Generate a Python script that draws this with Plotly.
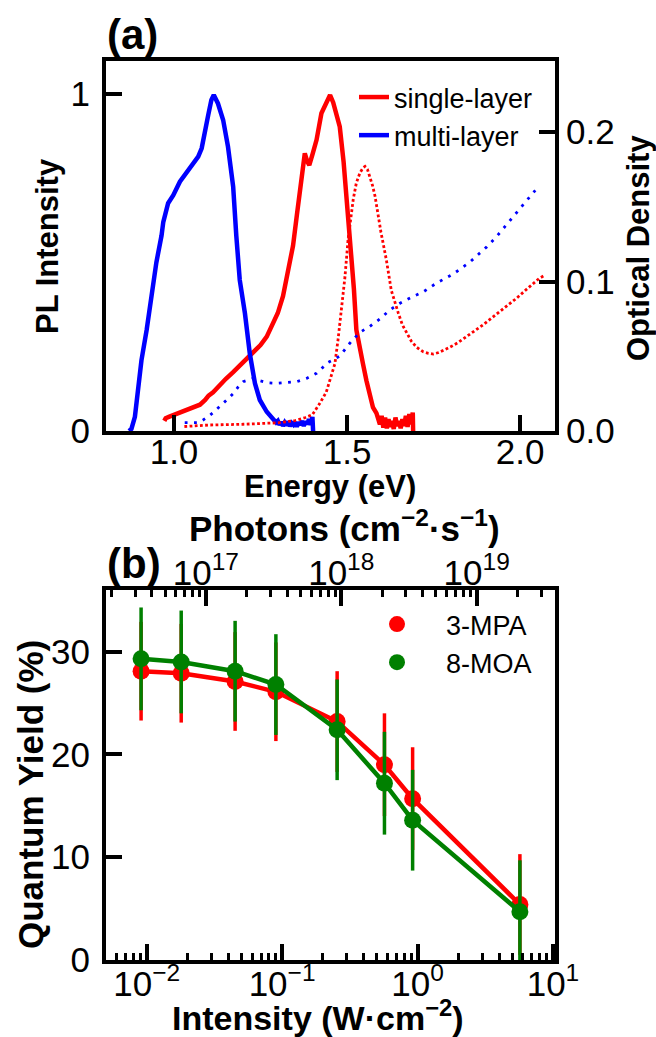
import plotly.graph_objects as go

# ---------------- Panel (a) data ----------------
# PL, single-layer (red solid)
pl_single_E = [0.972, 0.976, 0.985, 1.000, 1.020, 1.040, 1.060, 1.075, 1.090, 1.100, 1.113, 1.130,
               1.150, 1.171, 1.190, 1.210, 1.229, 1.250, 1.268, 1.280, 1.300, 1.315, 1.330, 1.344,
               1.355, 1.364, 1.372, 1.378, 1.385, 1.391, 1.400, 1.412, 1.426, 1.440, 1.451, 1.460,
               1.470, 1.479, 1.490, 1.499, 1.508, 1.513, 1.520, 1.527, 1.537, 1.546, 1.556, 1.566,
               1.575, 1.585, 1.590, 1.595, 1.600, 1.605, 1.610, 1.615, 1.620, 1.625, 1.630, 1.635,
               1.640, 1.645, 1.650, 1.655, 1.660, 1.665, 1.670, 1.675, 1.680, 1.685, 1.690, 1.691]
pl_single_I = [0.030, 0.038, 0.042, 0.048, 0.055, 0.062, 0.070, 0.078, 0.092, 0.105, 0.115, 0.135,
               0.155, 0.175, 0.195, 0.215, 0.232, 0.255, 0.280, 0.305, 0.350, 0.400, 0.480, 0.550,
               0.640, 0.706, 0.780, 0.824, 0.800, 0.789, 0.820, 0.864, 0.943, 0.975, 0.997, 0.975,
               0.940, 0.903, 0.800, 0.685, 0.596, 0.537, 0.420, 0.300, 0.240, 0.200, 0.150, 0.100,
               0.070, 0.053, 0.035, 0.020, 0.045, 0.010, 0.040, 0.008, 0.035, 0.012, 0.030, 0.006,
               0.040, 0.015, 0.030, 0.008, 0.035, 0.015, 0.045, 0.012, 0.050, 0.020, 0.055, 0.0]

# PL, multi-layer (blue solid)
pl_multi_E = [0.870, 0.877, 0.887, 0.896, 0.906, 0.921, 0.935, 0.949, 0.964, 0.969, 0.983, 0.998,
              1.017, 1.036, 1.055, 1.070, 1.080, 1.089, 1.099, 1.108, 1.115, 1.127, 1.142, 1.156,
              1.171, 1.180, 1.190, 1.205, 1.219, 1.234, 1.248, 1.268, 1.287, 1.295, 1.300, 1.305,
              1.310, 1.315, 1.320, 1.325, 1.330, 1.335, 1.340, 1.345, 1.350, 1.355, 1.360, 1.365,
              1.370, 1.375, 1.380, 1.385, 1.390, 1.395, 1.400, 1.402]
pl_multi_I = [0.000, 0.006, 0.042, 0.120, 0.210, 0.300, 0.400, 0.500, 0.580, 0.620, 0.676, 0.700,
              0.740, 0.765, 0.790, 0.814, 0.839, 0.893, 0.938, 0.982, 0.997, 0.972, 0.923, 0.844,
              0.725, 0.580, 0.448, 0.349, 0.230, 0.141, 0.092, 0.057, 0.033, 0.025, 0.030, 0.018,
              0.027, 0.015, 0.025, 0.017, 0.028, 0.014, 0.024, 0.019, 0.027, 0.013, 0.026, 0.018,
              0.030, 0.015, 0.028, 0.020, 0.035, 0.018, 0.042, 0.000]

# Optical density, single-layer (red dotted)
od_single_E = [1.030, 1.100, 1.200, 1.300, 1.350, 1.380, 1.400, 1.420, 1.440, 1.451, 1.465, 1.474,
               1.484, 1.494, 1.503, 1.510, 1.518, 1.527, 1.537, 1.546, 1.552, 1.559, 1.566, 1.574,
               1.581, 1.590, 1.598, 1.604, 1.614, 1.628, 1.638, 1.648, 1.660, 1.672, 1.686, 1.701,
               1.720, 1.735, 1.749, 1.765, 1.780, 1.797, 1.820, 1.845, 1.870, 1.893, 1.920, 1.942,
               1.965, 1.990, 2.015, 2.038, 2.055, 2.070]
od_single_OD = [0.0030, 0.0040, 0.0045, 0.0055, 0.0070, 0.0090, 0.0110, 0.0180, 0.0260, 0.0340,
                0.0450, 0.0610, 0.0810, 0.1030, 0.1280, 0.1420, 0.1550, 0.1660, 0.1725, 0.1760,
                0.1770, 0.1750, 0.1700, 0.1640, 0.1570, 0.1430, 0.1330, 0.1260, 0.1140, 0.0940,
                0.0860, 0.0790, 0.0710, 0.0655, 0.0600, 0.0560, 0.0530, 0.0520, 0.0515, 0.0525,
                0.0540, 0.0560, 0.0590, 0.0630, 0.0670, 0.0710, 0.0760, 0.0800, 0.0840, 0.0888,
                0.0940, 0.0988, 0.1020, 0.1040]

# Optical density, multi-layer (blue dotted)
od_multi_E = [1.031, 1.051, 1.070, 1.084, 1.099, 1.113, 1.133, 1.152, 1.171, 1.186, 1.200, 1.214,
              1.229, 1.248, 1.268, 1.297, 1.326, 1.355, 1.383, 1.412, 1.446, 1.479, 1.508, 1.537,
              1.566, 1.595, 1.624, 1.653, 1.691, 1.720, 1.759, 1.807, 1.855, 1.903, 1.932, 1.958,
              1.985, 2.015, 2.044]
od_multi_OD = [0.0056, 0.0058, 0.0056, 0.0074, 0.0096, 0.0123, 0.0163, 0.0207, 0.0250, 0.0296,
               0.0330, 0.0340, 0.0352, 0.0336, 0.0323, 0.0319, 0.0323, 0.0330, 0.0352, 0.0386,
               0.0460, 0.0500, 0.0587, 0.0660, 0.0700, 0.0750, 0.0810, 0.0854, 0.0900, 0.0930,
               0.0990, 0.1050, 0.1130, 0.1230, 0.1300, 0.1370, 0.1445, 0.1530, 0.1610]

# ---------------- Panel (b) data ----------------
intensity = [0.0091, 0.018, 0.045, 0.090, 0.255, 0.57, 0.92, 5.7]       # W cm^-2
qy_mpa = [28.1, 27.9, 27.1, 26.1, 23.2, 19.0, 15.7, 5.4]
qy_mpa_err = [4.8, 4.8, 4.8, 4.8, 4.9, 5.0, 5.0, 4.9]
qy_moa = [29.3, 29.0, 28.1, 26.8, 22.4, 17.2, 13.6, 4.7]
qy_moa_err = [5.0, 5.0, 4.9, 4.9, 4.9, 5.0, 4.9, 5.0]
photon_log_offset = 18.563   # log10(photons cm^-2 s^-1 per W cm^-2)

energy_ticks = [1.0, 1.5, 2.0]
pl_ticks = [0, 1]
od_ticks = [0.0, 0.1, 0.2]
qy_ticks = [0, 10, 20, 30]
int_ticks = [0.01, 0.1, 1, 10]
int_ticktext = ["10<sup>−2</sup>", "10<sup>−1</sup>", "10<sup>0</sup>", "10<sup>1</sup>"]
ph_ticks = [1e17, 1e18, 1e19]
ph_ticktext = ["10<sup>17</sup>", "10<sup>18</sup>", "10<sup>19</sup>"]

RED, BLUE, GREEN = "#ff0000", "#0000ff", "#008000"
FONT = "Liberation Sans, Arial, sans-serif"
W, H = 656, 1037

def fx(p):
    return p / W

def fy(p):
    return 1 - p / H

fig = go.Figure()

# panel (a)
fig.add_trace(go.Scatter(x=pl_single_E, y=pl_single_I, mode="lines", name="single-layer",
                         line=dict(color=RED, width=4.5), xaxis="x", yaxis="y", legend="legend"))
fig.add_trace(go.Scatter(x=pl_multi_E, y=pl_multi_I, mode="lines", name="multi-layer",
                         line=dict(color=BLUE, width=4.5), xaxis="x", yaxis="y", legend="legend"))
fig.add_trace(go.Scatter(x=od_single_E, y=od_single_OD, mode="lines", showlegend=False,
                         line=dict(color=RED, width=2.8, dash="2.8px,2.4px"), xaxis="x", yaxis="y2"))
fig.add_trace(go.Scatter(x=od_multi_E, y=od_multi_OD, mode="lines", showlegend=False,
                         line=dict(color=BLUE, width=2.8, dash="2.8px,6.5px"), xaxis="x", yaxis="y2"))

# panel (b)
for name, vals, errs, col in [("3-MPA", qy_mpa, qy_mpa_err, RED), ("8-MOA", qy_moa, qy_moa_err, GREEN)]:
    fig.add_trace(go.Scatter(x=intensity, y=vals, mode="lines", showlegend=False,
                             line=dict(color=col, width=4.5), xaxis="x3", yaxis="y3"))
    fig.add_trace(go.Scatter(x=intensity, y=vals, mode="markers", name=name,
                             marker=dict(color=col, size=17, line=dict(width=0)),
                             error_y=dict(type="data", array=errs, color=col, thickness=3.5, width=0),
                             xaxis="x3", yaxis="y3", legend="legend2"))

# a hidden trace on the top (photon flux) axis so it is drawn
fig.add_trace(go.Scatter(x=[10 ** (photon_log_offset - 2.0)], y=[None], mode="markers",
                         showlegend=False, xaxis="x4", yaxis="y3", hoverinfo="skip"))

axis_common = dict(showgrid=False, zeroline=False, showline=True, linecolor="black", linewidth=4,
                   ticks="inside", ticklen=16, tickwidth=4, tickcolor="black", automargin=False,
                   tickfont=dict(family=FONT, size=35, color="black"))

minor_int = [m * 10.0 ** e for e in range(-3, 1) for m in range(2, 10)]
minor_ph = [m * 10.0 ** e for e in range(16, 20) for m in range(2, 10)]
minor_style = dict(ticks="inside", ticklen=7, tickwidth=3, tickcolor="black")

xdom = [fx(106), fx(555)]
fig.update_layout(
    template="none",
    width=W, height=H,
    margin=dict(l=0, r=0, t=0, b=0, pad=0),
    paper_bgcolor="white", plot_bgcolor="white",
    font=dict(family=FONT, color="black"),
    hovermode=False,
    xaxis=dict(domain=xdom, anchor="y", range=[0.8035, 2.101], tickvals=energy_ticks,
               ticktext=[f"{v:.1f}" for v in energy_ticks], mirror=True,
               ticklabelstandoff=-13, **axis_common),
    yaxis=dict(domain=[fy(431), fy(61)], anchor="x", range=[0, 1.098], tickvals=pl_ticks,
               ticklabelstandoff=5, **axis_common),
    yaxis2=dict(overlaying="y", anchor="x", side="right", range=[0, 0.2475], tickvals=od_ticks,
                ticktext=[f"{v:.1f}" for v in od_ticks], ticklabelstandoff=0, **axis_common),
    xaxis3=dict(domain=xdom, anchor="y3", type="log", range=[-2.3, 1.015], tickvals=int_ticks,
                ticktext=int_ticktext, minor=dict(tickvals=minor_int, **minor_style),
                ticklabelstandoff=-10, **axis_common),
    yaxis3=dict(domain=[fy(960), fy(590)], anchor="x3", range=[0, 36], tickvals=qy_ticks,
                mirror=True, ticklabelstandoff=5, **axis_common),
    xaxis4=dict(overlaying="x3", anchor="y3", side="top", type="log",
                range=[-2.3 + photon_log_offset, 1.015 + photon_log_offset],
                tickvals=ph_ticks, ticktext=ph_ticktext, minor=dict(tickvals=minor_ph, **minor_style),
                ticklabelstandoff=-13, **axis_common),
    legend=dict(x=fx(354), y=fy(73), xanchor="left", yanchor="top", bgcolor="rgba(0,0,0,0)",
                font=dict(family=FONT, size=27, color="black"), itemwidth=30),
    legend2=dict(x=fx(348), y=fy(600), xanchor="left", yanchor="top", bgcolor="rgba(0,0,0,0)",
                 font=dict(family=FONT, size=27, color="black"), itemwidth=88,
                 tracegroupgap=0),
    showlegend=True,
)

def ann(text, x, y, size, angle=0, xanchor="center"):
    fig.add_annotation(text=text, x=fx(x), y=fy(y), xref="paper", yref="paper", showarrow=False,
                       xanchor=xanchor, yanchor="middle", textangle=angle,
                       font=dict(family=FONT, size=size, color="black"))

ann("<b>(a)</b>", 105, 34, 42, xanchor="left")
ann("<b>(b)</b>", 105, 563, 42, xanchor="left")
ann("<b>PL Intensity</b>", 47, 246, 31, angle=-90)
ann("<b>Optical Density</b>", 638, 248, 31, angle=-90)
ann("<b>Energy (eV)</b>", 330, 486, 31)
ann("<b>Quantum Yield (%)</b>", 30, 795, 35, angle=-90)
ann("<b>Intensity (W·cm<sup>−2</sup>)</b>", 318, 1015, 34)
ann("<b>Photons (cm<sup>−2</sup>·s<sup>−1</sup>)</b>", 344, 526, 35)

# remove the default 8px page margin so the figure sits at the window's top-left corner
fig.write_html("out.html", config={"displayModeBar": False},
               post_script="document.body.style.margin='0px';")
